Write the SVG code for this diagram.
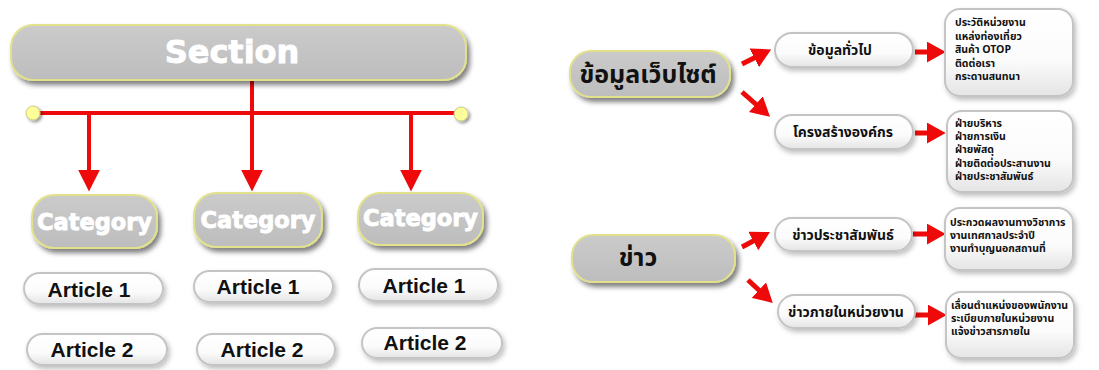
<svg xmlns="http://www.w3.org/2000/svg" width="1099" height="370" viewBox="0 0 1099 370">
<style>
.gbox{fill:url(#gGrey);stroke:#e2e28c;stroke-width:2;filter:url(#sh)}
.pill{fill:url(#gPill);stroke:#c4c4c4;stroke-width:2;filter:url(#sh2)}
.wbox{fill:url(#gPill);stroke:#c4c4c4;stroke-width:2;filter:url(#sh2)}
.wt{font-family:"DejaVu Sans",sans-serif;font-weight:bold;fill:#ffffff;stroke:#ffffff;stroke-width:0.9;text-anchor:middle}
.at{font-family:"Liberation Sans",Arial,sans-serif;font-weight:bold;fill:#111;font-size:21px;text-anchor:middle}
.th{font-family:"Noto Sans Thai","Tahoma","Noto Sans","DejaVu Sans",sans-serif;font-weight:bold;fill:#111}
.thm{font-size:25px;text-anchor:middle}
.thp{font-size:14px;text-anchor:middle}
.thl{font-size:10.5px}
.red{stroke:#ee0a0a;stroke-width:4;fill:none}
.redt{stroke:#ee0a0a;stroke-width:5;fill:none}
</style>
<defs>
<linearGradient id="gGrey" x1="0" y1="0" x2="0" y2="1">
<stop offset="0" stop-color="#cbcbcb"/><stop offset="1" stop-color="#bdbdbd"/>
</linearGradient>
<linearGradient id="gPill" x1="0" y1="0" x2="0" y2="1">
<stop offset="0" stop-color="#ffffff"/><stop offset="0.6" stop-color="#fbfbfb"/><stop offset="1" stop-color="#e4e4e4"/>
</linearGradient>
<filter id="sh" x="-20%" y="-30%" width="140%" height="170%">
<feDropShadow dx="3" dy="4" stdDeviation="2.5" flood-color="#000" flood-opacity="0.5"/>
</filter>
<filter id="sh2" x="-20%" y="-30%" width="140%" height="170%">
<feDropShadow dx="2" dy="3" stdDeviation="2.5" flood-color="#000" flood-opacity="0.25"/>
</filter>
<filter id="sh3" x="-50%" y="-50%" width="200%" height="200%">
<feDropShadow dx="2" dy="2" stdDeviation="1.5" flood-color="#000" flood-opacity="0.4"/>
</filter>
<marker id="ahL" markerUnits="userSpaceOnUse" markerWidth="22" markerHeight="22" viewBox="0 0 20 20" refX="4" refY="10" orient="auto">
<path d="M0,0 L20,10 L0,20 Z" fill="#ee0a0a"/>
</marker>
<marker id="ahR" markerUnits="userSpaceOnUse" markerWidth="19" markerHeight="21" viewBox="0 0 18 20" refX="4" refY="10" orient="auto">
<path d="M0,0 L18,10 L0,20 Z" fill="#ee0a0a"/>
</marker>
</defs>

<!-- Connectors -->
<g id="connectors">
<line class="red" x1="33" y1="113" x2="461" y2="113"/>
<line class="red" x1="252" y1="80" x2="252" y2="174" marker-end="url(#ahL)"/>
<line class="red" x1="89" y1="113" x2="89" y2="174" marker-end="url(#ahL)"/>
<line class="red" x1="411" y1="113" x2="411" y2="174" marker-end="url(#ahL)"/>
<circle cx="33" cy="113" r="7" fill="#ffff99" stroke="#c9c98a" stroke-width="1" filter="url(#sh3)"/>
<circle cx="461" cy="114" r="7" fill="#ffff99" stroke="#c9c98a" stroke-width="1" filter="url(#sh3)"/>

<line class="redt" x1="742" y1="64" x2="758" y2="56" marker-end="url(#ahR)"/>
<line class="redt" x1="742" y1="92" x2="759" y2="107" marker-end="url(#ahR)"/>
<line class="redt" x1="915" y1="52" x2="931" y2="52" marker-end="url(#ahR)"/>
<line class="redt" x1="915" y1="133" x2="931" y2="133" marker-end="url(#ahR)"/>
<line class="redt" x1="742" y1="247" x2="757" y2="239" marker-end="url(#ahR)"/>
<line class="redt" x1="748" y1="280" x2="762" y2="293" marker-end="url(#ahR)"/>
<line class="redt" x1="913" y1="234" x2="931" y2="234" marker-end="url(#ahR)"/>
<line class="redt" x1="915" y1="315" x2="932" y2="315" marker-end="url(#ahR)"/>
</g>

<!-- Left: Section tree -->
<g id="section">
<rect class="gbox" x="11" y="25" width="455" height="55" rx="22"/>
<text class="wt" x="232" y="63" font-size="32">Section</text>
</g>
<g id="category1">
<rect class="gbox" x="32" y="195" width="125" height="53" rx="22"/>
<text class="wt" x="94.5" y="230" font-size="22.5">Category</text>
</g>
<g id="category2">
<rect class="gbox" x="194" y="193" width="128" height="54" rx="22"/>
<text class="wt" x="258" y="228" font-size="22.5">Category</text>
</g>
<g id="category3">
<rect class="gbox" x="358" y="193" width="125" height="52" rx="22"/>
<text class="wt" x="420.5" y="226" font-size="22.5">Category</text>
</g>
<g id="article1-1">
<rect class="pill" x="24" y="273" width="139" height="31" rx="15.5"/>
<text class="at" x="89" y="297">Article 1</text>
</g>
<g id="article1-2">
<rect class="pill" x="194" y="271" width="139" height="31" rx="15.5"/>
<text class="at" x="258" y="294">Article 1</text>
</g>
<g id="article1-3">
<rect class="pill" x="359" y="269" width="139" height="32" rx="16"/>
<text class="at" x="424" y="293">Article 1</text>
</g>
<g id="article2-1">
<rect class="pill" x="27" y="334" width="140" height="31" rx="15.5"/>
<text class="at" x="92" y="357">Article 2</text>
</g>
<g id="article2-2">
<rect class="pill" x="197" y="334" width="138" height="31" rx="15.5"/>
<text class="at" x="262" y="357">Article 2</text>
</g>
<g id="article2-3">
<rect class="pill" x="362" y="328" width="140" height="30" rx="15"/>
<text class="at" x="425" y="350">Article 2</text>
</g>

<!-- Right: website info -->
<g id="website-info">
<rect class="gbox" x="570" y="51" width="160" height="46" rx="21"/>
<text class="th thm" x="648" y="83">ข้อมูลเว็บไซต์</text>
</g>
<g id="general-info">
<rect class="pill" x="775" y="33" width="138" height="34" rx="17"/>
<text class="th thp" x="840" y="55">ข้อมูลทั่วไป</text>
</g>
<g id="general-list">
<rect class="wbox" x="945" y="9" width="128" height="87" rx="15"/>
<text class="th thl" x="955" y="26">ประวัติหน่วยงาน</text>
<text class="th thl" x="955" y="40">แหล่งท่องเที่ยว</text>
<text class="th thl" x="955" y="53">สินค้า OTOP</text>
<text class="th thl" x="955" y="67">ติดต่อเรา</text>
<text class="th thl" x="955" y="80">กระดานสนทนา</text>
</g>
<g id="organization">
<rect class="pill" x="775" y="115" width="138" height="34" rx="17"/>
<text class="th thp" x="843" y="137">โครงสร้างองค์กร</text>
</g>
<g id="organization-list">
<rect class="wbox" x="947" y="111" width="126" height="81" rx="15"/>
<text class="th thl" x="955" y="127">ฝ่ายบริหาร</text>
<text class="th thl" x="955" y="140">ฝ่ายการเงิน</text>
<text class="th thl" x="955" y="153">ฝ่ายพัสดุ</text>
<text class="th thl" x="955" y="167">ฝ่ายติดต่อประสานงาน</text>
<text class="th thl" x="955" y="180">ฝ่ายประชาสัมพันธ์</text>
</g>

<!-- Right: news -->
<g id="news">
<rect class="gbox" x="572" y="235" width="163" height="47" rx="21"/>
<text class="th thm" x="638" y="266">ข่าว</text>
</g>
<g id="pr-news">
<rect class="pill" x="775" y="218" width="137" height="33" rx="16.5"/>
<text class="th thp" x="843" y="240">ข่าวประชาสัมพันธ์</text>
</g>
<g id="pr-list">
<rect class="wbox" x="945" y="208" width="128" height="62" rx="15"/>
<text class="th thl" x="950" y="226">ประกวดผลงานทางวิชาการ</text>
<text class="th thl" x="950" y="239">งานเทศกาลประจำปี</text>
<text class="th thl" x="950" y="252">งานทำบุญนอกสถานที่</text>
</g>
<g id="internal-news">
<rect class="pill" x="778" y="295" width="137" height="33" rx="16.5"/>
<text class="th thp" x="846" y="317">ข่าวภายในหน่วยงาน</text>
</g>
<g id="internal-list">
<rect class="wbox" x="946" y="292" width="128" height="66" rx="15"/>
<text class="th thl" x="951" y="309">เลื่อนตำแหน่งของพนักงาน</text>
<text class="th thl" x="951" y="322">ระเบียบภายในหน่วยงาน</text>
<text class="th thl" x="951" y="335">แจ้งข่าวสารภายใน</text>
</g>
</svg>
